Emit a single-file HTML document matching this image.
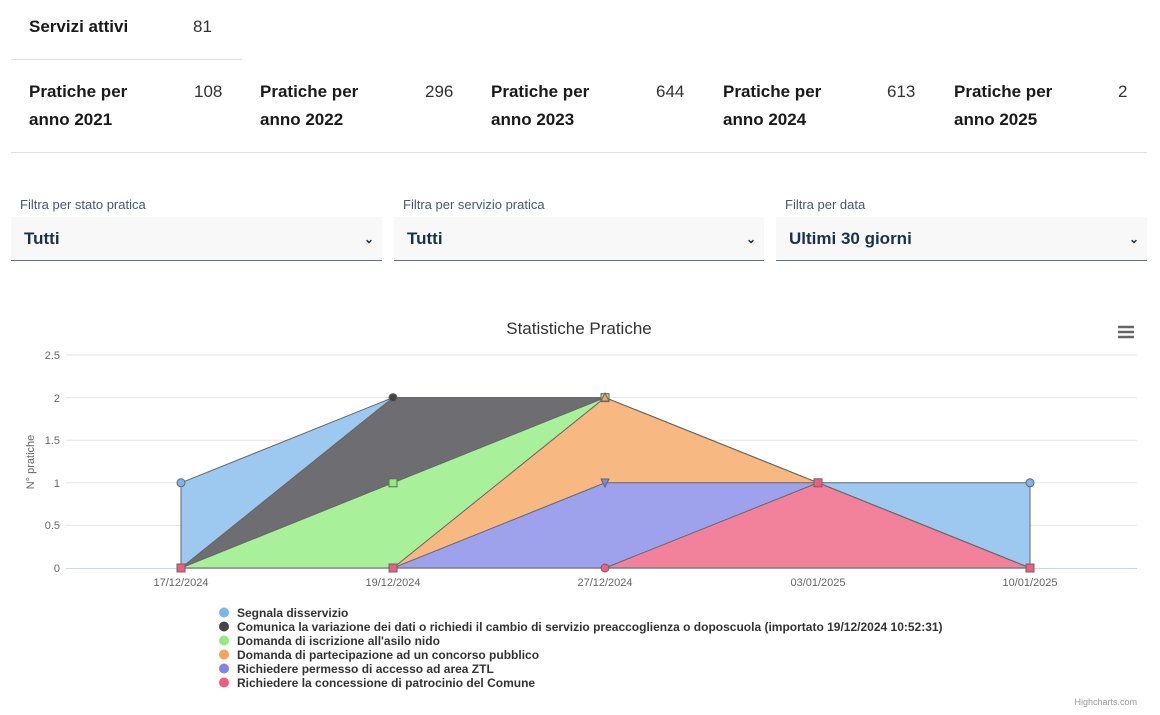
<!DOCTYPE html>
<html><head><meta charset="utf-8"><style>
body{margin:0;width:1160px;height:715px;background:#fff;font-family:"Liberation Sans",sans-serif;position:relative;overflow:hidden}
.a{position:absolute}
.lbl{font-weight:bold;font-size:17px;color:#1a1a1a;line-height:28px}
.num{font-size:17px;color:#333;}
.flab{font-size:13px;color:#44596e}
.sel{background:#f8f8f8;border-bottom:1px solid #5c6f82;height:44px;font-weight:bold;font-size:17px;color:#17324d;line-height:44px;padding-left:13px;box-sizing:border-box}
.chev{position:absolute;right:8px;top:0;font-size:12px;color:#17324d}
</style></head><body>
<div class="a lbl" style="left:29px;top:13px">Servizi attivi</div>
<div class="a num" style="left:193px;top:17px">81</div>
<div class="a" style="left:11px;top:59px;width:231px;height:1px;background:#dce1e6"></div>

<div class="a lbl" style="left:29px;top:78px">Pratiche per<br>anno 2021</div><div class="a num" style="left:194px;top:82px">108</div>
<div class="a lbl" style="left:260px;top:78px">Pratiche per<br>anno 2022</div><div class="a num" style="left:425px;top:82px">296</div>
<div class="a lbl" style="left:491px;top:78px">Pratiche per<br>anno 2023</div><div class="a num" style="left:656px;top:82px">644</div>
<div class="a lbl" style="left:723px;top:78px">Pratiche per<br>anno 2024</div><div class="a num" style="left:887px;top:82px">613</div>
<div class="a lbl" style="left:954px;top:78px">Pratiche per<br>anno 2025</div><div class="a num" style="left:1118px;top:82px">2</div>
<div class="a" style="left:11px;top:152px;width:1136px;height:1px;background:#dce1e6"></div>

<div class="a flab" style="left:20px;top:197px">Filtra per stato pratica</div>
<div class="a flab" style="left:403px;top:197px">Filtra per servizio pratica</div>
<div class="a flab" style="left:785px;top:197px">Filtra per data</div>
<div class="a sel" style="left:11px;top:217px;width:371px">Tutti<span class="chev">&#8964;</span></div>
<div class="a sel" style="left:394px;top:217px;width:370px">Tutti<span class="chev">&#8964;</span></div>
<div class="a sel" style="left:776px;top:217px;width:371px">Ultimi 30 giorni<span class="chev">&#8964;</span></div>

<svg class="a" style="left:0;top:300px" width="1160" height="415" viewBox="0 300 1160 415" font-family="Liberation Sans, sans-serif">
<text x="579" y="334" text-anchor="middle" font-size="17" fill="#333">Statistiche Pratiche</text>
<g stroke="#666" stroke-width="2.5"><line x1="1118" y1="327" x2="1134" y2="327"/><line x1="1118" y1="332" x2="1134" y2="332"/><line x1="1118" y1="337" x2="1134" y2="337"/></g>
<g stroke="#e6e6e6"><line x1="66" y1="355" x2="1137" y2="355"/><line x1="66" y1="397.6" x2="1137" y2="397.6"/><line x1="66" y1="440.2" x2="1137" y2="440.2"/><line x1="66" y1="482.8" x2="1137" y2="482.8"/><line x1="66" y1="525.4" x2="1137" y2="525.4"/></g>
<line x1="66" y1="568.5" x2="1137" y2="568.5" stroke="#ccd6eb"/>
<g font-size="11" fill="#666" text-anchor="end"><text x="60" y="359">2.5</text><text x="60" y="402">2</text><text x="60" y="444">1.5</text><text x="60" y="487">1</text><text x="60" y="529">0.5</text><text x="60" y="572">0</text></g>
<text transform="translate(34,462) rotate(-90)" font-size="11" fill="#666" text-anchor="middle">N° pratiche</text>
<g font-size="11" fill="#666" text-anchor="middle"><text x="181" y="586">17/12/2024</text><text x="393" y="586">19/12/2024</text><text x="605" y="586">27/12/2024</text><text x="818" y="586">03/01/2025</text><text x="1030" y="586">10/01/2025</text></g>
<g stroke="#666" stroke-width="1">
<polygon fill="#9dc8f0" points="181,568 181,482.8 393,397.6 605,397.6 818,482.8 1030,482.8 1030,568"/>
<polygon fill="#6e6e72" points="181,568 393,397.6 605,397.6 818,482.8 1030,568"/>
<polygon fill="#a9f09b" points="181,568 393,482.8 605,397.6 818,482.8 1030,568"/>
<polygon fill="#f7b882" points="181,568 393,568 605,397.6 818,482.8 1030,568"/>
<polygon fill="#9ea2ec" points="181,568 393,568 605,482.8 818,482.8 1030,568"/>
<polygon fill="#f2819c" points="181,568 393,568 605,568 818,482.8 1030,568"/>
</g>
<g stroke="#666" stroke-width="1">
<circle cx="181" cy="482.8" r="4" fill="#7cb5ec"/><circle cx="1030" cy="482.8" r="4" fill="#7cb5ec"/><circle cx="818" cy="482.8" r="4" fill="#7cb5ec"/>
<circle cx="393" cy="397.6" r="4" fill="#434348"/>
<rect x="389" y="478.8" width="8" height="8" fill="#90ed7d"/><rect x="601" y="393.6" width="8" height="8" fill="#90ed7d"/>
<polygon points="605,393 601,401 609,401" fill="#f7a35c"/>
<polygon points="601,479 609,479 605,487" fill="#8085e9"/>
<rect x="814" y="478.8" width="8" height="8" fill="#f15c80"/>
<rect x="177" y="564" width="8" height="8" fill="#f15c80"/><rect x="389" y="564" width="8" height="8" fill="#f15c80"/><rect x="1026" y="564" width="8" height="8" fill="#f15c80"/>
<circle cx="605" cy="568" r="4" fill="#f15c80"/>
</g>
<g font-size="12" font-weight="bold" fill="#333">
<circle cx="224" cy="612.5" r="5" fill="#7cb5ec"/><text x="237" y="617">Segnala disservizio</text>
<circle cx="224" cy="626.5" r="5" fill="#434348"/><text x="237" y="631">Comunica la variazione dei dati o richiedi il cambio di servizio preaccoglienza o doposcuola (importato 19/12/2024 10:52:31)</text>
<circle cx="224" cy="640.5" r="5" fill="#90ed7d"/><text x="237" y="645">Domanda di iscrizione all'asilo nido</text>
<circle cx="224" cy="654.5" r="5" fill="#f7a35c"/><text x="237" y="659">Domanda di partecipazione ad un concorso pubblico</text>
<circle cx="224" cy="668.5" r="5" fill="#8085e9"/><text x="237" y="673">Richiedere permesso di accesso ad area ZTL</text>
<circle cx="224" cy="682.5" r="5" fill="#f15c80"/><text x="237" y="687">Richiedere la concessione di patrocinio del Comune</text>
</g>
<text x="1137" y="705" font-size="9" fill="#999" text-anchor="end">Highcharts.com</text>
</svg>
</body></html>
